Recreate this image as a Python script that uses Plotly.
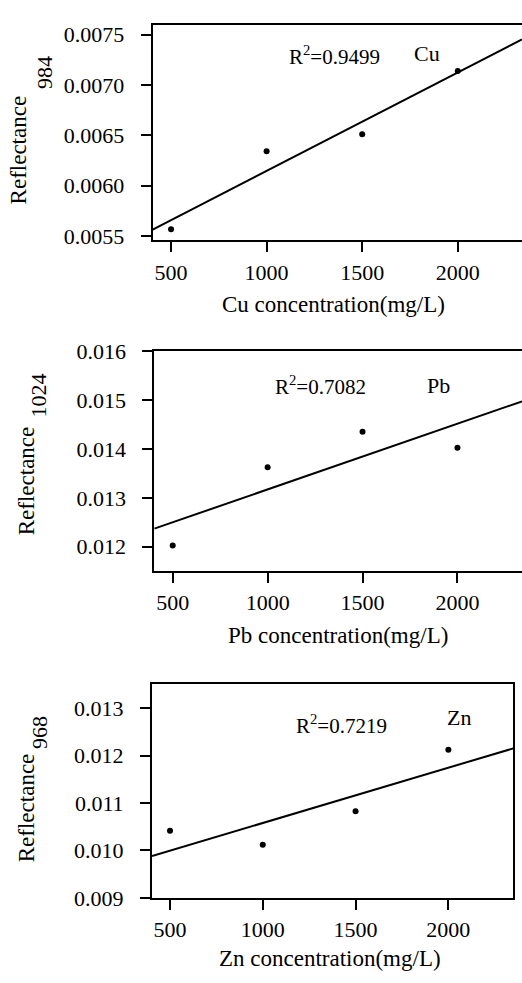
import numpy as np
import plotly.graph_objects as go

W, H = 522, 983

conc = [500, 1000, 1500, 2000]
cu_refl = [0.005568, 0.006344, 0.006512, 0.007141]
pb_refl = [0.012028, 0.013631, 0.014355, 0.014030]
zn_refl = [0.010414, 0.010119, 0.010824, 0.012121]

r2_labels = ["0.9499", "0.7082", "0.7219"]
metals = ["Cu", "Pb", "Zn"]
bands = ["984", "1024", "968"]

FONT = "Liberation Serif"
fig = go.Figure()

panels = [
    dict(y=cu_refl, xd=[152.7, 522], yd=[234.3, 13.3], xr=[404, 2336], yr=[0.005458, 0.007597],
         ytick=[0.0055, 0.0060, 0.0065, 0.0070, 0.0075], yfmt=".4f", box=False,
         r2=(334, 45), name=(426.7, 42.7), xt=(333.3, 300),
         refl=(18.3, 141.7), sub=(45, 62.5)),
    dict(y=pb_refl, xd=[154.3, 522], yd=[573.3, 348.3], xr=[403, 2340], yr=[0.01151, 0.016],
         ytick=[0.012, 0.013, 0.014, 0.015, 0.016], yfmt=".3f", box=False,
         r2=(320.3, 383.3), name=(438.8, 383.3), xt=(338.3, 640),
         refl=(26.7, 480.8), sub=(38.3, 393.3)),
    dict(y=zn_refl, xd=[152, 513.3], yd=[909, 690], xr=[403, 2350], yr=[0.009, 0.013498],
         ytick=[0.009, 0.010, 0.011, 0.012, 0.013], yfmt=".3f", box=True,
         r2=(341.3, 731), name=(459, 724), xt=(330, 971.7),
         refl=(27.3, 816.7), sub=(40, 739.7)),
]

def px(x):
    return x / W

def py(y):
    return 1 - y / H

annotations = []
layout = {}
for i, p in enumerate(panels):
    n = "" if i == 0 else str(i + 1)
    xa, ya = "x" + n, "y" + n
    slope, inter = np.polyfit(conc, p["y"], 1)
    lx = np.array(p["xr"], dtype=float)
    fig.add_trace(go.Scatter(x=lx, y=slope * lx + inter, mode="lines",
                             line=dict(color="black", width=2), xaxis=xa, yaxis=ya,
                             showlegend=False, hoverinfo="skip"))
    fig.add_trace(go.Scatter(x=conc, y=p["y"], mode="markers",
                             marker=dict(color="black", size=6), xaxis=xa, yaxis=ya,
                             showlegend=False))
    layout["xaxis" + n] = dict(
        domain=[px(p["xd"][0]), px(p["xd"][1])], range=p["xr"], anchor=ya,
        showline=True, linewidth=2, linecolor="black", mirror=True,
        ticks="outside", ticklen=10, tickwidth=1.5, tickcolor="black",
        tickvals=conc, ticktext=[str(c) for c in conc], showgrid=False, zeroline=False,
        tickfont=dict(family=FONT, size=22, color="black"), ticklabelstandoff=1)
    layout["yaxis" + n] = dict(
        domain=[py(p["yd"][0]), py(p["yd"][1])], range=p["yr"], anchor=xa,
        showline=True, linewidth=2, linecolor="black", mirror=p["box"],
        ticks="outside", ticklen=10, tickwidth=1.5, tickcolor="black",
        tickvals=p["ytick"], ticktext=[format(v, p["yfmt"]) for v in p["ytick"]],
        showgrid=False, zeroline=False,
        tickfont=dict(family=FONT, size=22, color="black"), ticklabelstandoff=12)
    annotations += [
        dict(text="R<sup>2</sup>=" + r2_labels[i], x=px(p["r2"][0]), y=py(p["r2"][1]),
             font=dict(family=FONT, size=21, color="black")),
        dict(text=metals[i], x=px(p["name"][0]), y=py(p["name"][1]),
             font=dict(family=FONT, size=22, color="black")),
        dict(text=metals[i] + " concentration(mg/L)", x=px(p["xt"][0]), y=py(p["xt"][1]),
             font=dict(family=FONT, size=23, color="black")),
        dict(text="Reflectance", x=px(p["refl"][0]), y=py(p["refl"][1]), textangle=-90,
             font=dict(family=FONT, size=23, color="black")),
        dict(text=bands[i], x=px(p["sub"][0]), y=py(p["sub"][1]), textangle=-90,
             font=dict(family=FONT, size=22, color="black")),
    ]

for a in annotations:
    a.update(xref="paper", yref="paper", showarrow=False, xanchor="center", yanchor="middle")

fig.update_layout(width=W, height=H, margin=dict(l=0, r=0, t=0, b=0),
                  paper_bgcolor="white", plot_bgcolor="white",
                  annotations=annotations, **layout)
fig.write_html("out.html")
